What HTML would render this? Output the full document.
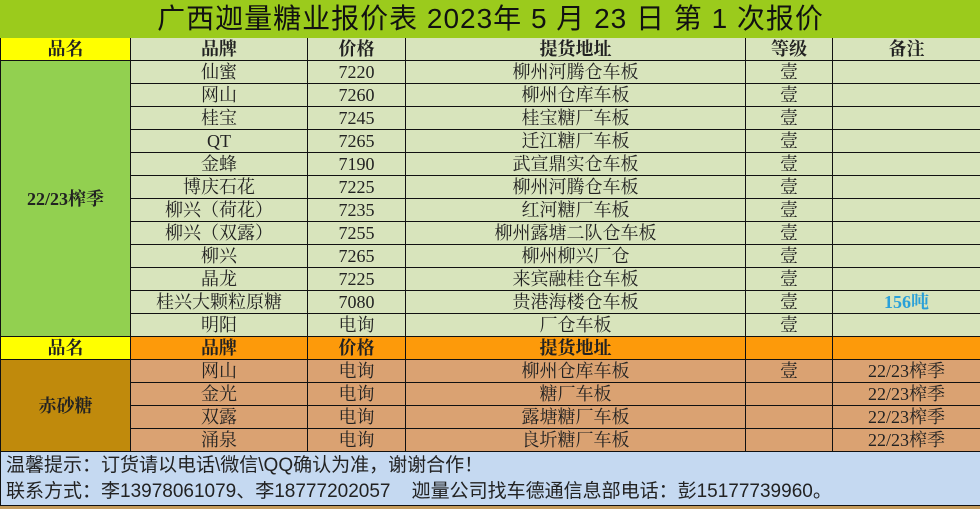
<!DOCTYPE html>
<html><head><meta charset="utf-8"><style>
body{margin:0;width:980px;height:509px;overflow:hidden;background:#c49a5a;}
table{border-collapse:collapse;table-layout:fixed;width:980px;font-family:"Liberation Serif","Noto Serif CJK SC",serif;font-size:18px;color:#222;}
td{border:1px solid #111;padding:0;text-align:center;height:22px;line-height:20px;white-space:nowrap;overflow:hidden;}
.t{background:#9bcb1c;font-family:"Liberation Sans","Noto Sans CJK SC",sans-serif;font-size:28px;letter-spacing:1px;height:36px;color:#111;border-color:#9bcb1c;}
.y{background:#ffff00;font-weight:bold;}
.g{background:#d8e4bc;}
.lg{background:#92d050;font-weight:bold;}
.o{background:#fd9a0a;font-weight:bold;}
.b{background:#daa272;}
.lb{background:#c08a0c;font-weight:bold;}
.f{background:#c5d9f1;text-align:left;font-family:"Liberation Sans","Noto Sans CJK SC",sans-serif;font-size:19px;line-height:26px;height:53px;padding-left:5px;}
</style></head><body>
<table>
<colgroup><col style="width:130px"><col style="width:177px"><col style="width:98px"><col style="width:340px"><col style="width:87px"><col style="width:148px"></colgroup>
<tr><td class="t" colspan="6">广西迦量糖业报价表 2023年 5 月 23 日 第 1 次报价</td></tr>
<tr><td class="y">品名</td><td class="g" style="font-weight:bold">品牌</td><td class="g" style="font-weight:bold">价格</td><td class="g" style="font-weight:bold">提货地址</td><td class="g" style="font-weight:bold">等级</td><td class="g" style="font-weight:bold">备注</td></tr>
<tr><td class="lg" rowspan="12">22/23榨季</td><td class="g">仙蜜</td><td class="g">7220</td><td class="g">柳州河腾仓车板</td><td class="g">壹</td><td class="g"></td></tr>
<tr><td class="g">网山</td><td class="g">7260</td><td class="g">柳州仓库车板</td><td class="g">壹</td><td class="g"></td></tr>
<tr><td class="g">桂宝</td><td class="g">7245</td><td class="g">桂宝糖厂车板</td><td class="g">壹</td><td class="g"></td></tr>
<tr><td class="g">QT</td><td class="g">7265</td><td class="g">迁江糖厂车板</td><td class="g">壹</td><td class="g"></td></tr>
<tr><td class="g">金蜂</td><td class="g">7190</td><td class="g">武宣鼎实仓车板</td><td class="g">壹</td><td class="g"></td></tr>
<tr><td class="g">博庆石花</td><td class="g">7225</td><td class="g">柳州河腾仓车板</td><td class="g">壹</td><td class="g"></td></tr>
<tr><td class="g">柳兴（荷花）</td><td class="g">7235</td><td class="g">红河糖厂车板</td><td class="g">壹</td><td class="g"></td></tr>
<tr><td class="g">柳兴（双露）</td><td class="g">7255</td><td class="g">柳州露塘二队仓车板</td><td class="g">壹</td><td class="g"></td></tr>
<tr><td class="g">柳兴</td><td class="g">7265</td><td class="g">柳州柳兴厂仓</td><td class="g">壹</td><td class="g"></td></tr>
<tr><td class="g">晶龙</td><td class="g">7225</td><td class="g">来宾融桂仓车板</td><td class="g">壹</td><td class="g"></td></tr>
<tr><td class="g">桂兴大颗粒原糖</td><td class="g">7080</td><td class="g">贵港海楼仓车板</td><td class="g">壹</td><td class="g" style="color:#2aa0d8;font-weight:bold">156吨</td></tr>
<tr><td class="g">明阳</td><td class="g">电询</td><td class="g">厂仓车板</td><td class="g">壹</td><td class="g"></td></tr>
<tr><td class="y" style="height:21px">品名</td><td class="o">品牌</td><td class="o">价格</td><td class="o">提货地址</td><td class="o"></td><td class="o"></td></tr>
<tr><td class="lb" rowspan="4">赤砂糖</td><td class="b">网山</td><td class="b">电询</td><td class="b">柳州仓库车板</td><td class="b">壹</td><td class="b">22/23榨季</td></tr>
<tr><td class="b">金光</td><td class="b">电询</td><td class="b">糖厂车板</td><td class="b"></td><td class="b">22/23榨季</td></tr>
<tr><td class="b">双露</td><td class="b">电询</td><td class="b">露塘糖厂车板</td><td class="b"></td><td class="b">22/23榨季</td></tr>
<tr><td class="b">涌泉</td><td class="b">电询</td><td class="b">良圻糖厂车板</td><td class="b"></td><td class="b">22/23榨季</td></tr>
<tr><td class="f" colspan="6">温馨提示：订货请以电话\微信\QQ确认为准，谢谢合作！<br>联系方式：李13978061079、李18777202057&nbsp;&nbsp;&nbsp;&nbsp;迦量公司找车德通信息部电话：彭15177739960。</td></tr>
</table>
</body></html>
